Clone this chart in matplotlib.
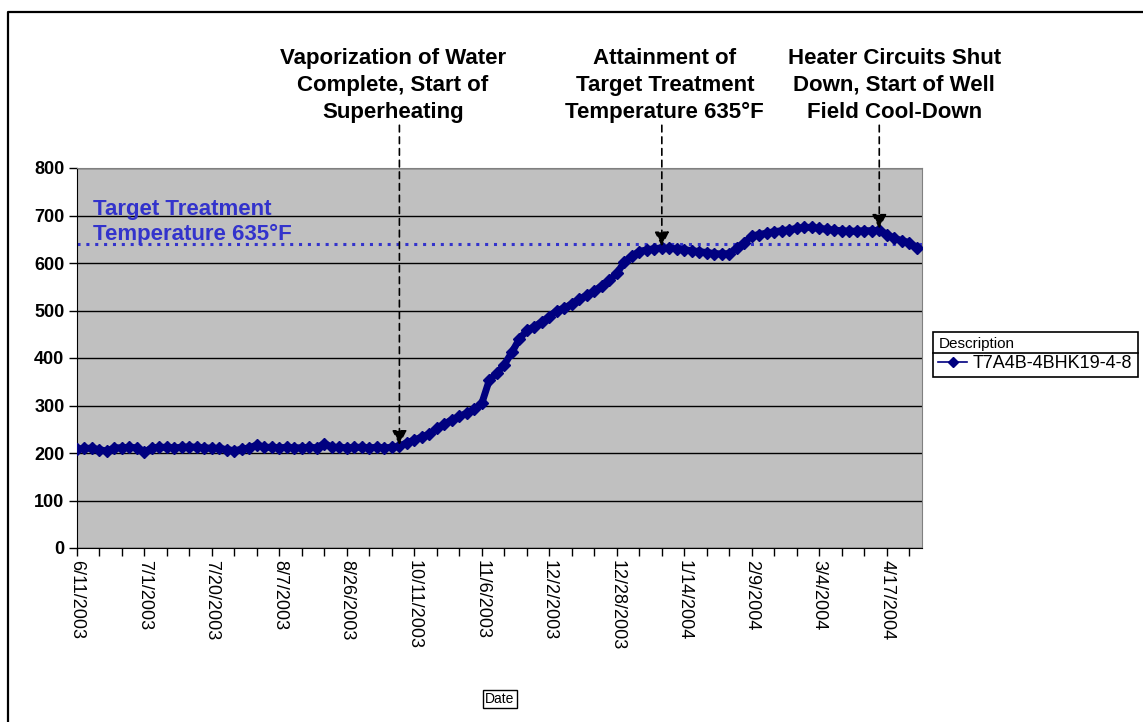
import matplotlib.pyplot as plt
from matplotlib.lines import Line2D

# temperature readings (deg F), one per category on the date axis
temps = [208, 210, 210, 207, 204, 211, 211, 212, 211, 202,
         211, 212, 212, 211, 212, 213, 212, 211, 210, 210,
         207, 205, 208, 211, 217, 212, 212, 211, 212, 211,
         211, 212, 211, 220, 212, 212, 211, 212, 212, 211,
         212, 211, 212, 214, 222, 227, 234, 240, 252, 261,
         270, 277, 284, 292, 305, 354, 368, 386, 412, 440,
         458, 466, 476, 487, 500, 505, 514, 524, 532, 541,
         552, 564, 578, 602, 615, 624, 628, 630, 632, 631,
         630, 628, 626, 624, 622, 620, 619, 620, 631, 643,
         657, 660, 663, 666, 668, 670, 673, 675, 675, 673,
         671, 669, 668, 667, 667, 668, 668, 669, 660, 652,
         647, 643, 632]

date_labels = ["6/11/2003", "7/1/2003", "7/20/2003", "8/7/2003", "8/26/2003",
               "10/11/2003", "11/6/2003", "12/2/2003", "12/28/2003", "1/14/2004",
               "2/9/2004", "3/4/2004", "4/17/2004"]

series_name = "T7A4B-4BHK19-4-8"
target_temp = 640
target_text = "Target Treatment\nTemperature 635°F"

event_idx = [43, 78, 107]
event_text = ["Vaporization of Water\nComplete, Start of\nSuperheating",
              "Attainment of\nTarget Treatment\nTemperature 635°F",
              "Heater Circuits Shut\nDown, Start of Well\nField Cool-Down"]
event_shift = [-0.9, 0.4, 2.0]

plt.rcParams['font.family'] = ['Liberation Sans', 'DejaVu Sans']

fig = plt.figure(figsize=(11.43, 7.22), dpi=100)
ax = fig.add_axes([77 / 1143, 1 - 548 / 722, 845 / 1143, 380 / 722])
ax.set_facecolor('#C0C0C0')

x = list(range(len(temps)))
ax.plot(x, temps, color='#000080', lw=5, marker='D', ms=6.5, zorder=3, label=series_name)
ax.axhline(target_temp, color='#3333CC', lw=2.2, ls=(0, (1, 1.9)), zorder=2)

ax.set_xlim(0, 112.7)
ax.set_ylim(0, 800)
ax.set_yticks(range(0, 801, 100))
ax.yaxis.grid(True, color='black', lw=1)
ax.set_axisbelow(True)

ax.set_xticks(range(0, len(temps), 3))
ax.set_xticklabels([date_labels[i // 9] if i % 9 == 0 else '' for i in range(0, len(temps), 3)],
                   rotation=-90, fontsize=13)
for lab in ax.get_yticklabels():
    lab.set_fontsize(13)
    lab.set_fontweight('bold')
ax.tick_params(axis='both', direction='out', length=6, width=1, color='black', pad=3)

for s in ['top', 'right']:
    ax.spines[s].set_color('#808080')
for s in ['left', 'bottom']:
    ax.spines[s].set_color('black')

ax.text(2.1, 735, target_text, color='#3333CC', fontsize=16, fontweight='bold',
        va='top', ha='left', linespacing=1.28)

for i, txt, dx in zip(event_idx, event_text, event_shift):
    ax.annotate('', xy=(i, temps[i] + 3), xytext=(i, 890), annotation_clip=False,
                arrowprops=dict(arrowstyle='-|>', color='black', lw=1.2, ls=(0, (4, 3)),
                                mutation_scale=22, shrinkA=0, shrinkB=0))
    ax.text(i + dx, 1053, txt, ha='center', va='top', fontsize=16, fontweight='bold',
            linespacing=1.38, clip_on=False)

fig.text(500 / 1143, 1 - 699 / 722, 'Date', ha='center', va='center', fontsize=10,
         bbox=dict(boxstyle='square,pad=0.15', fc='white', ec='black', lw=1))

leg = ax.legend(loc='upper left', bbox_to_anchor=(933 / 1143, 1 - 332 / 722),
                bbox_transform=fig.transFigure, title='Description', alignment='left',
                fontsize=13, title_fontsize=11, fancybox=False, edgecolor='black',
                framealpha=1, borderaxespad=0, borderpad=0.3, handlelength=1.6,
                handletextpad=0.3, labelspacing=0.2)
leg.get_frame().set_linewidth(1.2)
for h in leg.legend_handles:
    h.set_linewidth(1.2)
    h.set_markersize(5)

fig.canvas.draw()
lb = leg.get_window_extent()
tb = leg.get_title().get_window_extent()
ysep = tb.y0 - 2
fig.add_artist(Line2D([lb.x0 / 1143, lb.x1 / 1143], [ysep / 722, ysep / 722],
                      color='black', lw=1.2, transform=fig.transFigure))

# outer chart border (left and top edges visible)
fig.add_artist(Line2D([7.5 / 1143, 7.5 / 1143, 1.0], [0.0, 1 - 11.5 / 722, 1 - 11.5 / 722],
                      color='black', lw=1.6, transform=fig.transFigure))

fig.savefig('out.png', dpi=100)
